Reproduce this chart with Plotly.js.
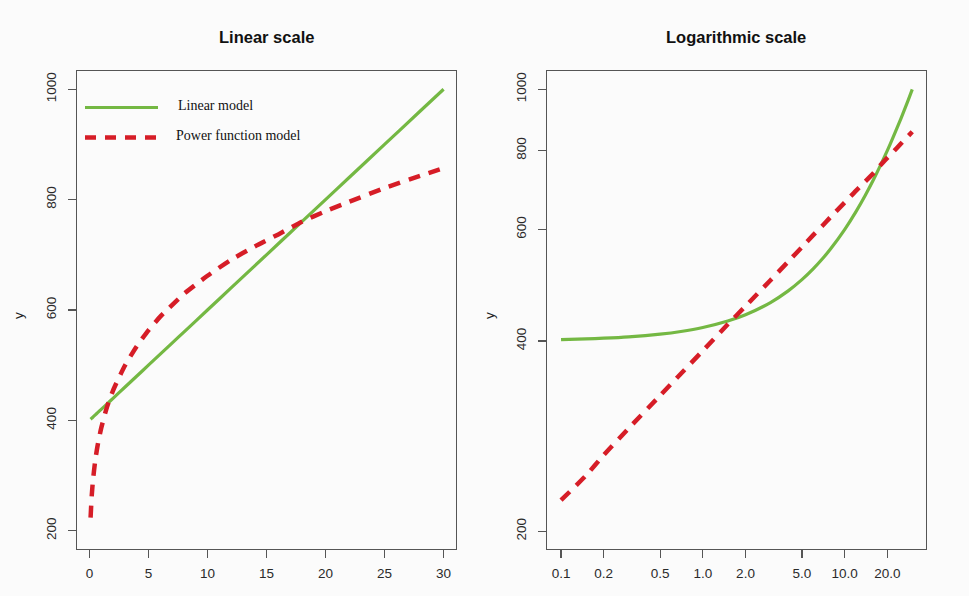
<!DOCTYPE html>
<html>
<head>
<meta charset="utf-8">
<script src="https://cdn.plot.ly/plotly-3.0.1.min.js"></script>
<style>
  html, body { margin: 0; padding: 0; background: #fbfbfb; }
  #chart { width: 969px; height: 596px; }
</style>
</head>
<body>
<div id="chart"></div>
<script>
// ---- data ----
const xValues = [0.1, 0.15, 0.2, 0.3, 0.5, 0.7, 1, 1.5, 2, 3, 4, 5, 6, 7, 8, 10, 12, 14, 16, 18, 20, 22, 25, 28, 30];
const linearModel = [402, 403, 404, 406, 410, 414, 420, 430, 440, 460, 480, 500, 520, 540, 560, 600, 640, 680, 720, 760, 800, 840, 900, 960, 1000];
const powerModel = [224, 245, 264, 291, 328, 355, 386, 425, 454, 499, 534, 563, 588, 609, 629, 662, 691, 715, 737, 760, 779, 796, 821, 843, 857];

const seriesNames = ["Linear model", "Power function model"];
const panelTitles = ["Linear scale", "Logarithmic scale"];
const linYTicks = [200, 400, 600, 800, 1000];
const linXTicks = [0, 5, 10, 15, 20, 25, 30];
const logXTicks = [0.1, 0.2, 0.5, 1, 2, 5, 10, 20];
const logXTickText = ["0.1", "0.2", "0.5", "1.0", "2.0", "5.0", "10.0", "20.0"];
const logYTicks = [200, 400, 600, 800, 1000];

// ---- styling ----
const GREEN = "#74b843";
const RED = "#d61d27";
const W = 969, H = 596;
const px = v => v / W;
const py = v => 1 - v / H;

const greenLine = { color: GREEN, width: 3.2, shape: "spline", smoothing: 0.6 };
const redLine = { color: RED, width: 4.5, dash: "12px,9px", shape: "spline", smoothing: 0.6 };

const traces = [
  { x: xValues, y: linearModel, name: seriesNames[0], mode: "lines", line: greenLine, xaxis: "x", yaxis: "y", showlegend: false, hoverinfo: "skip" },
  { x: xValues, y: powerModel, name: seriesNames[1], mode: "lines", line: redLine, xaxis: "x", yaxis: "y", showlegend: false, hoverinfo: "skip" },
  { x: xValues, y: linearModel, name: seriesNames[0], mode: "lines", line: greenLine, xaxis: "x2", yaxis: "y2", showlegend: false, hoverinfo: "skip" },
  { x: xValues, y: powerModel, name: seriesNames[1], mode: "lines", line: redLine, xaxis: "x2", yaxis: "y2", showlegend: false, hoverinfo: "skip" }
];

const tickFont = { family: "Liberation Sans, Arial, sans-serif", size: 13.5, color: "#2a2a2a" };
const axisCommon = {
  showline: true, linecolor: "#555", linewidth: 1.2, mirror: true,
  ticks: "outside", ticklen: 8, tickwidth: 1.2, tickcolor: "#555",
  showgrid: false, zeroline: false, tickfont: tickFont, fixedrange: true
};

const layout = {
  width: W, height: H,
  margin: { l: 0, r: 0, t: 0, b: 0 },
  paper_bgcolor: "#fbfbfb",
  plot_bgcolor: "#fbfbfb",
  showlegend: false,
  xaxis: Object.assign({}, axisCommon, {
    domain: [px(77), px(456)], anchor: "y",
    range: [-1.05, 31.05], tickvals: linXTicks, ticklabelstandoff: 4
  }),
  yaxis: Object.assign({}, axisCommon, {
    domain: [py(549), py(71)], anchor: "x",
    range: [167, 1033], tickvals: linYTicks, tickangle: -90, ticklabelstandoff: 6
  }),
  xaxis2: Object.assign({}, axisCommon, {
    domain: [px(547), px(926)], anchor: "y2", type: "log",
    range: [-1.099, 1.574], tickvals: logXTicks, ticktext: logXTickText, ticklabelstandoff: 4
  }),
  yaxis2: Object.assign({}, axisCommon, {
    domain: [py(549), py(71)], anchor: "x2", type: "log",
    range: [2.273, 3.029], tickvals: logYTicks, tickangle: -90, ticklabelstandoff: 6
  }),
  shapes: [
    { type: "line", xref: "paper", yref: "paper", x0: px(85), x1: px(158), y0: py(107.5), y1: py(107.5), line: { color: GREEN, width: 3.2 } },
    { type: "line", xref: "paper", yref: "paper", x0: px(85), x1: px(158), y0: py(137.5), y1: py(137.5), line: { color: RED, width: 4.5, dash: "11px,9px" } }
  ],
  annotations: [
    { text: "<b>" + panelTitles[0] + "</b>", xref: "paper", yref: "paper", x: px(266), y: py(37), xanchor: "center", yanchor: "middle", showarrow: false, font: { family: "Liberation Sans, Arial, sans-serif", size: 16.5, color: "#111" } },
    { text: "<b>" + panelTitles[1] + "</b>", xref: "paper", yref: "paper", x: px(736), y: py(37), xanchor: "center", yanchor: "middle", showarrow: false, font: { family: "Liberation Sans, Arial, sans-serif", size: 16.5, color: "#111" } },
    { text: "y", xref: "paper", yref: "paper", x: px(18), y: py(316), xanchor: "center", yanchor: "middle", textangle: -90, showarrow: false, font: { family: "Liberation Sans, Arial, sans-serif", size: 13.5, color: "#222" } },
    { text: "y", xref: "paper", yref: "paper", x: px(489), y: py(316), xanchor: "center", yanchor: "middle", textangle: -90, showarrow: false, font: { family: "Liberation Sans, Arial, sans-serif", size: 13.5, color: "#222" } },
    { text: seriesNames[0], xref: "paper", yref: "paper", x: px(176), y: py(105), xanchor: "left", yanchor: "middle", showarrow: false, font: { family: "Liberation Serif, Times New Roman, serif", size: 14, color: "#111" } },
    { text: seriesNames[1], xref: "paper", yref: "paper", x: px(174), y: py(135), xanchor: "left", yanchor: "middle", showarrow: false, font: { family: "Liberation Serif, Times New Roman, serif", size: 14, color: "#111" } }
  ]
};

Plotly.newPlot("chart", traces, layout, { staticPlot: true, displayModeBar: false });
</script>
</body>
</html>
